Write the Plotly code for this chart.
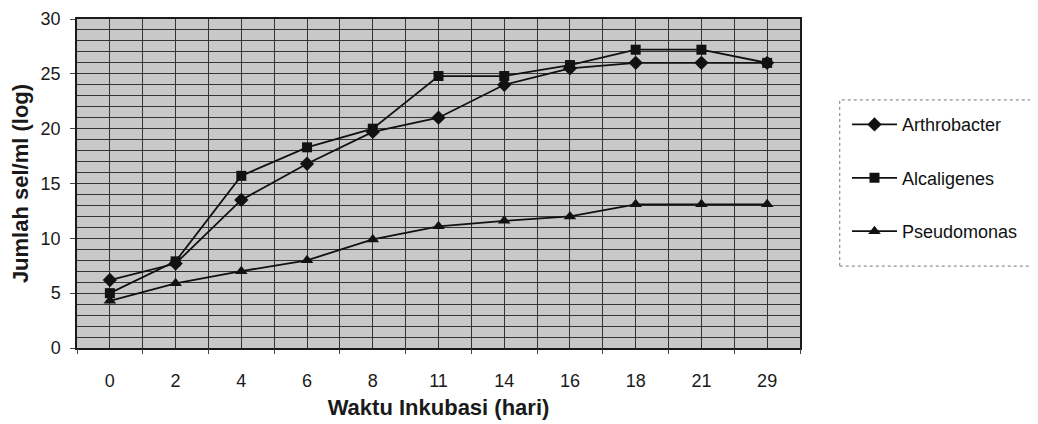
import plotly.graph_objects as go

days = ["0", "2", "4", "6", "8", "11", "14", "16", "18", "21", "29"]
arthrobacter = [6.2, 7.7, 13.5, 16.8, 19.7, 21.0, 24.0, 25.5, 26.0, 26.0, 26.0]
alcaligenes = [5.0, 7.9, 15.7, 18.3, 20.0, 24.8, 24.8, 25.8, 27.2, 27.2, 26.0]
pseudomonas = [4.3, 5.9, 7.0, 8.0, 9.9, 11.1, 11.6, 12.0, 13.1, 13.1, 13.1]

series = [
    ("Arthrobacter", arthrobacter, "diamond", 11),
    ("Alcaligenes", alcaligenes, "square", 10),
    ("Pseudomonas", pseudomonas, "triangle-up", 11),
]

fig = go.Figure()
for i, (name, vals, sym, sz) in enumerate(series):
    fig.add_trace(go.Scatter(
        x=days, y=vals, name=name, mode="lines+markers",
        line=dict(color="#111111", width=1.8),
        marker=dict(symbol=sym, size=sz, color="#111111"),
        legendgroup=f"g{i}",
    ))

# invisible trace to carry the boundary gridlines axis
fig.add_trace(go.Scatter(x=days, y=arthrobacter, xaxis="x2", mode="markers",
                         marker=dict(opacity=0), showlegend=False, hoverinfo="skip"))

grid = "#333333"
fig.update_layout(
    width=1030, height=416,
    margin=dict(l=69, r=238, t=11, b=76),
    paper_bgcolor="white",
    plot_bgcolor="#c8c8c8",
    font=dict(family="Liberation Sans, Arial", color="#222222"),
    xaxis=dict(
        type="category", categoryorder="array", categoryarray=days,
        range=[-0.5, 10.5], showgrid=True, gridcolor=grid, gridwidth=1,
        ticks="", ticklabelstandoff=16, automargin=False,
        tickfont=dict(size=18, color="#1a1a1a"),
        showline=True, linecolor="#1a1a1a", linewidth=1.5, mirror=True,
        title=dict(text="<b>Waktu Inkubasi (hari)</b>", font=dict(size=22, color="#1a1a1a"), standoff=9),
        zeroline=False,
    ),
    xaxis2=dict(
        type="category", categoryorder="array", categoryarray=days,
        overlaying="x", side="bottom", range=[-0.5, 10.5], automargin=False,
        tickson="boundaries", showgrid=True, gridcolor=grid, gridwidth=1,
        ticks="outside", ticklen=5, tickcolor="#444444",
        showticklabels=False, showline=False, matches="x",
    ),
    yaxis=dict(
        range=[0, 30], dtick=5, tick0=0, showgrid=True, gridcolor=grid, gridwidth=1.2,
        minor=dict(dtick=1, showgrid=True, gridcolor=grid, gridwidth=1.2),
        ticks="outside", ticklen=5, tickcolor="#444444", ticklabelstandoff=6,
        automargin=False,
        tickfont=dict(size=18, color="#1a1a1a"),
        showline=True, linecolor="#1a1a1a", linewidth=1.5, mirror=True,
        title=dict(text="<b>Jumlah sel/ml (log)</b>", font=dict(size=22, color="#1a1a1a"), standoff=7),
        zeroline=False,
    ),
    legend=dict(
        x=1.065, y=0.735, xanchor="left", yanchor="top",
        font=dict(size=18, color="#111111"),
        bgcolor="rgba(0,0,0,0)", traceorder="grouped", tracegroupgap=27,
        itemwidth=45,
    ),
    shapes=[dict(
        type="rect", xref="paper", yref="paper",
        x0=1.055, x1=1.40, y0=0.249, y1=0.754,
        line=dict(color="#777777", width=1, dash="dot"),
    )],
    showlegend=True,
)

fig.write_html("out.html")
